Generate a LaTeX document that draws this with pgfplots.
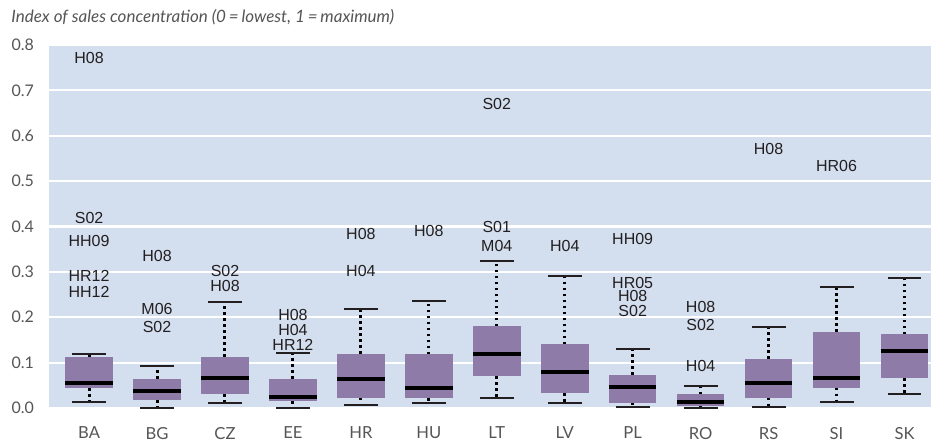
\documentclass[border=0pt]{standalone}
\usepackage{fontspec}
\setmainfont{Lato}
\newfontfamily\labfont{Liberation Sans}
\usepackage{pgfplots}
\pgfplotsset{compat=1.18}
\usepgfplotslibrary{statistics}
\definecolor{bgblue}{HTML}{D3DEEE}
\definecolor{boxpurple}{HTML}{8F7BA8}
\definecolor{tickgray}{HTML}{555555}
\definecolor{labcol}{HTML}{231F20}

\pgfplotstableread{
x y label
0 0.771 H08
0 0.418 S02
0 0.369 HH09
0 0.290 HR12
0 0.256 HH12
1 0.334 H08
1 0.219 M06
1 0.178 S02
2 0.302 S02
2 0.269 H08
3 0.205 H08
3 0.171 H04
3 0.140 HR12
4 0.384 H08
4 0.303 H04
5 0.391 H08
6 0.671 S02
6 0.398 S01
6 0.358 M04
7 0.358 H04
8 0.373 HH09
8 0.276 HR05
8 0.247 H08
8 0.213 S02
9 0.223 H08
9 0.182 S02
9 0.093 H04
10 0.571 H08
11 0.534 HR06
}\outliers

\begin{document}
\begin{tikzpicture}
\begin{axis}[
  name=ax,
  scale only axis, width=441pt, height=181.5pt,
  xmin=-0.59, xmax=12.39, ymin=0, ymax=0.8,
  clip=false,
  axis background/.style={fill=bgblue},
  axis line style={draw=none},
  tick style={draw=none},
  major tick length=0pt,
  ymajorgrids,
  grid style={white, line width=1.1pt},
  ytick={0,0.1,0.2,0.3,0.4,0.5,0.6,0.7,0.8},
  /pgf/number format/assume math mode=true,
  yticklabel style={/pgf/number format/.cd, fixed, fixed zerofill, precision=1, /tikz/.cd,
    font=\fontsize{8}{9}\selectfont, text=tickgray, xshift=-4pt},
  xtick={0,1,2,3,4,5,6,7,8,9,10,11,12},
  xticklabels={BA,BG,CZ,EE,HR,HU,LT,LV,PL,RO,RS,SI,SK},
  xticklabel style={font=\fontsize{8.3}{9}\selectfont, text=tickgray, yshift=-6pt},
  boxplot/draw direction=y,
  boxplot/box extend=0.7,
  boxplot/whisker extend=0.5,
  boxplot/every box/.style={draw=none, fill=boxpurple},
  boxplot/every median/.style={draw=black, line width=2pt},
  boxplot/draw/lower whisker/.code={%
    \draw[black, line width=1.5pt, dash pattern=on 1.4pt off 1.6pt]
      (boxplot box cs:\pgfplotsboxplotvalue{lower quartile},0.5) --
      (boxplot box cs:\pgfplotsboxplotvalue{lower whisker},0.5);
    \draw[labcol, line width=1pt]
      (boxplot whisker cs:\pgfplotsboxplotvalue{lower whisker},0) --
      (boxplot whisker cs:\pgfplotsboxplotvalue{lower whisker},1);
  },
  boxplot/draw/upper whisker/.code={%
    \draw[black, line width=1.5pt, dash pattern=on 1.4pt off 1.6pt]
      (boxplot box cs:\pgfplotsboxplotvalue{upper quartile},0.5) --
      (boxplot box cs:\pgfplotsboxplotvalue{upper whisker},0.5);
    \draw[labcol, line width=1pt]
      (boxplot whisker cs:\pgfplotsboxplotvalue{upper whisker},0) --
      (boxplot whisker cs:\pgfplotsboxplotvalue{upper whisker},1);
  },
]
% BA
\addplot[boxplot prepared={draw position=0, median=0.056, upper quartile=0.113, lower quartile=0.044, upper whisker=0.119, lower whisker=0.014}] coordinates {};
% BG
\addplot[boxplot prepared={draw position=1, median=0.038, upper quartile=0.064, lower quartile=0.018, upper whisker=0.092, lower whisker=0.0}] coordinates {};
% CZ
\addplot[boxplot prepared={draw position=2, median=0.067, upper quartile=0.113, lower quartile=0.030, upper whisker=0.234, lower whisker=0.010}] coordinates {};
% EE
\addplot[boxplot prepared={draw position=3, median=0.025, upper quartile=0.064, lower quartile=0.015, upper whisker=0.121, lower whisker=0.0}] coordinates {};
% HR
\addplot[boxplot prepared={draw position=4, median=0.063, upper quartile=0.119, lower quartile=0.023, upper whisker=0.218, lower whisker=0.007}] coordinates {};
% HU
\addplot[boxplot prepared={draw position=5, median=0.045, upper quartile=0.118, lower quartile=0.021, upper whisker=0.236, lower whisker=0.012}] coordinates {};
% LT
\addplot[boxplot prepared={draw position=6, median=0.118, upper quartile=0.180, lower quartile=0.070, upper whisker=0.323, lower whisker=0.021}] coordinates {};
% LV
\addplot[boxplot prepared={draw position=7, median=0.079, upper quartile=0.140, lower quartile=0.032, upper whisker=0.291, lower whisker=0.012}] coordinates {};
% PL
\addplot[boxplot prepared={draw position=8, median=0.047, upper quartile=0.073, lower quartile=0.012, upper whisker=0.129, lower whisker=0.002}] coordinates {};
% RO
\addplot[boxplot prepared={draw position=9, median=0.014, upper quartile=0.030, lower quartile=0.004, upper whisker=0.049, lower whisker=0.0}] coordinates {};
% RS
\addplot[boxplot prepared={draw position=10, median=0.056, upper quartile=0.109, lower quartile=0.023, upper whisker=0.178, lower whisker=0.002}] coordinates {};
% SI
\addplot[boxplot prepared={draw position=11, median=0.067, upper quartile=0.167, lower quartile=0.045, upper whisker=0.267, lower whisker=0.014}] coordinates {};
% SK
\addplot[boxplot prepared={draw position=12, median=0.125, upper quartile=0.162, lower quartile=0.065, upper whisker=0.287, lower whisker=0.030}] coordinates {};
% outlier labels
\addplot[draw=none, nodes near coords, point meta=explicit symbolic,
  nodes near coords align={center},
  every node near coord/.append style={font=\labfont\fontsize{8}{8.5}\selectfont, text=labcol, inner sep=0pt, anchor=center}]
  table[x=x, y=y, meta=label] {\outliers};
\end{axis}
\node[anchor=west, font=\itshape\fontsize{8.5}{9}\selectfont, text=tickgray, inner sep=0pt]
  at ([xshift=-19pt, yshift=14pt]ax.north west) {Index of sales concentration (0\,=\,lowest, 1\,=\,maximum)};
\pgfresetboundingbox
\path ([xshift=-24.5pt, yshift=-18pt]ax.south west) rectangle ([yshift=22.5pt]ax.north east);
\end{tikzpicture}
\end{document}
